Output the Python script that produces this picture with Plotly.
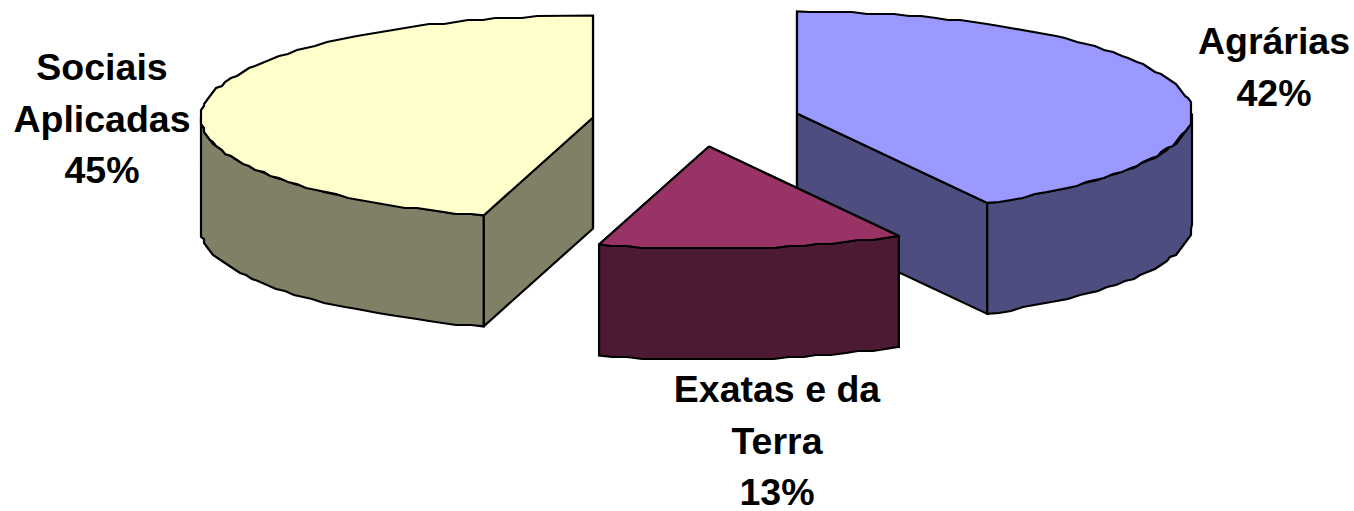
import numpy as np
import plotly.graph_objects as go

# shares, labels as printed on it
categories = ["Agrárias", "Exatas e da Terra", "Sociais Aplicadas"]
shares = [42.0, 12.5, 45.5]
percent_labels = ["42%", "13%", "45%"]
label_lines = [["Agrárias"], ["Exatas e da", "Terra"], ["Sociais", "Aplicadas"]]

top_colors = ["#9999FF", "#993366", "#FFFFCC"]
side_colors = ["#4D4D80", "#4D1A33", "#808066"]

# exploded pie geometry, in page pixels
apex_x = [797, 709, 593]
apex_y = [113.5, 146.5, 117.5]
rim_rx = [395, 394, 392]
RY = 102
DEPTH = 111
label_x = [1274, 777, 102]
label_y = [45, 393, 71]
LINE_GAP = 51.5
FONT = dict(family="Liberation Sans, Arial, sans-serif", size=37.5, color="black")


def arc(cx, cy, rx, a0, a1):
    """Points on the rim, angles in degrees clockwise from 12 o'clock."""
    a = np.radians(np.linspace(a0, a1, max(int(abs(a1 - a0) / 2), 2)))
    x = cx + rx * np.sin(a)
    y = cy - RY * np.cos(a)
    # the rim in the original is stepped, like a low resolution outline
    qx, qy = np.round(x / 3) * 3, np.round(y / 2) * 2
    qx[[0, -1]], qy[[0, -1]] = x[[0, -1]], y[[0, -1]]
    return qx, qy


def poly(fig, x, y, color):
    fig.add_trace(go.Scatter(
        x=np.append(x, x[0]), y=np.append(y, y[0]),
        mode="lines", fill="toself", fillcolor=color,
        line=dict(color="black", width=2.2),
        hoverinfo="skip", showlegend=False,
    ))


fig = go.Figure()

edges = np.cumsum([0] + shares) * 3.6

# back slices first, the small one sits in front
for i in [0, 2, 1]:
    a0, a1 = edges[i], edges[i + 1]
    cx, cy, rx = apex_x[i], apex_y[i], rim_rx[i]

    # cut faces
    for a in (a0, a1):
        ex = cx + rx * np.sin(np.radians(a))
        ey = cy - RY * np.cos(np.radians(a))
        poly(fig, np.array([cx, ex, ex, cx]),
             np.array([cy, ey, ey + DEPTH, cy + DEPTH]), side_colors[i])

    # outer wall, only the part that faces the viewer
    w0, w1 = max(a0, 90), min(a1, 270)
    wx, wy = arc(cx, cy, rx, w0, w1)
    poly(fig, np.concatenate([wx, wx[::-1]]),
         np.concatenate([wy, wy[::-1] + DEPTH]), side_colors[i])

    # top
    tx, ty = arc(cx, cy, rx, a0, a1)
    poly(fig, np.concatenate([[cx], tx]), np.concatenate([[cy], ty]), top_colors[i])

# labels, one text per line for the wide line spacing
for i in range(3):
    lines = label_lines[i] + [percent_labels[i]]
    fig.add_trace(go.Scatter(
        x=[label_x[i]] * len(lines),
        y=[label_y[i] + k * LINE_GAP for k in range(len(lines))],
        mode="text", text=[f"<b>{t}</b>" for t in lines],
        textposition="middle center", textfont=FONT,
        hoverinfo="skip", showlegend=False,
    ))

fig.update_layout(
    width=1354, height=511,
    margin=dict(l=0, r=0, t=0, b=0),
    paper_bgcolor="white", plot_bgcolor="white",
    xaxis=dict(range=[0, 1354], visible=False),
    yaxis=dict(range=[511, 0], visible=False),
)

fig.write_html("out.html", config=dict(displayModeBar=False),
               post_script="document.body.style.margin='0';")
